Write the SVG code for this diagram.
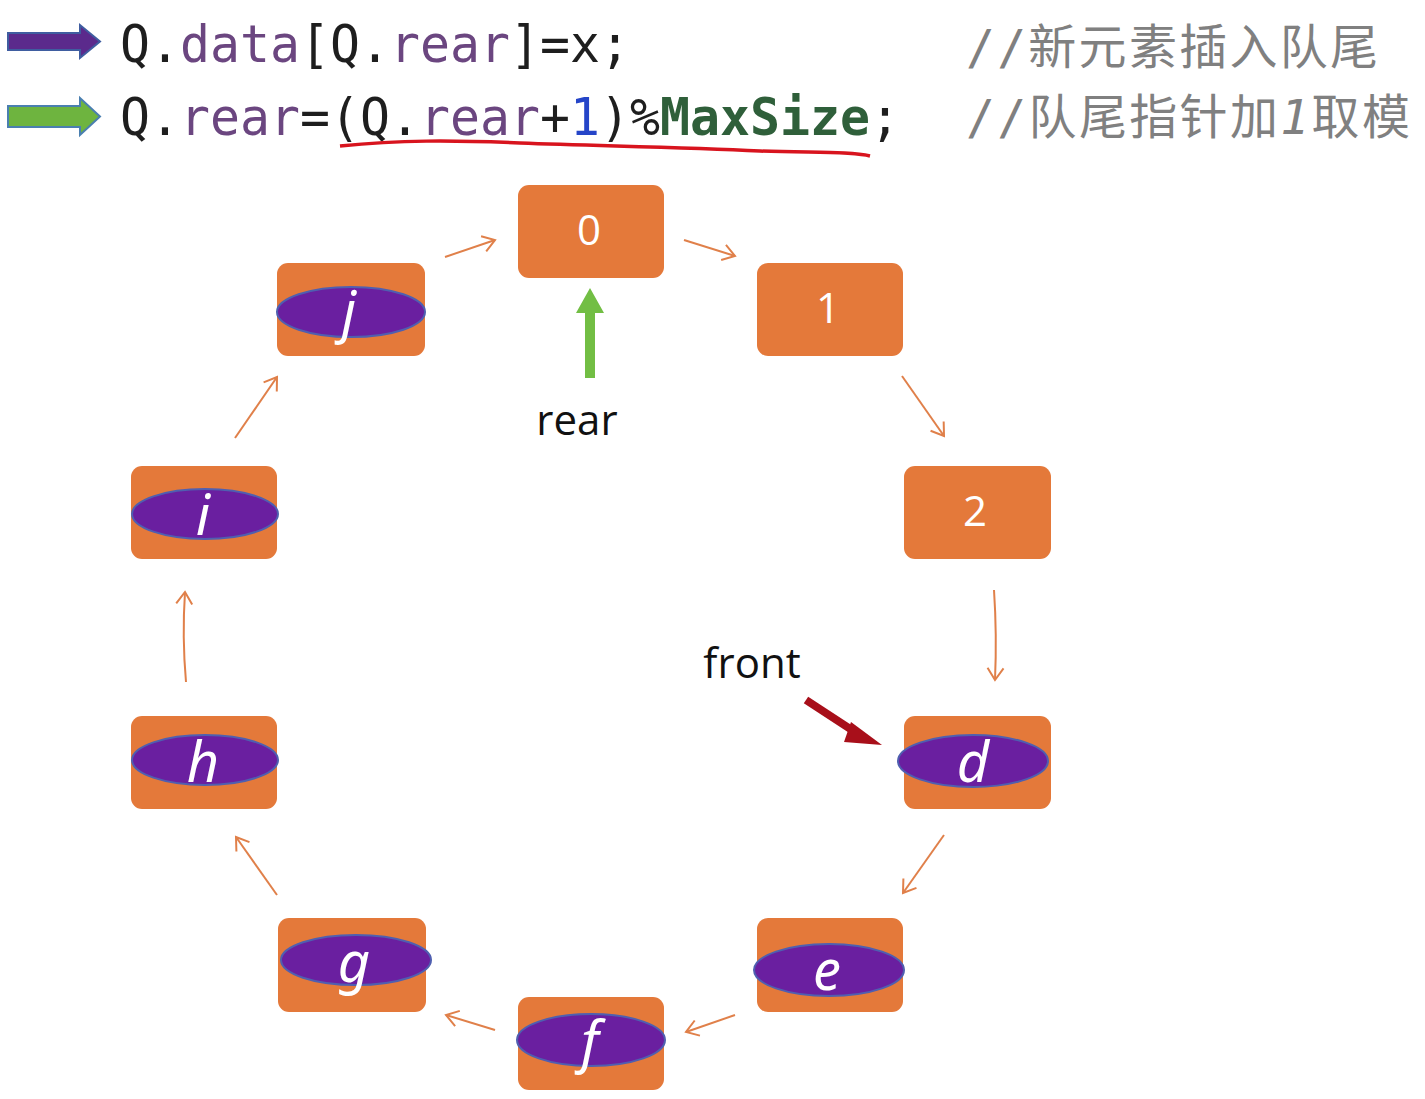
<svg xmlns="http://www.w3.org/2000/svg" width="1425" height="1099" viewBox="0 0 1425 1099">
<defs>
<style>
.box{fill:#E4793A;}
.ell{fill:#6A1FA0;stroke:#4F5FB0;stroke-width:2;}
.num{font-family:"Open Sans","Liberation Sans",sans-serif;font-size:42px;fill:#fff;text-anchor:middle;}
.let{font-family:"Noto Sans","Open Sans",sans-serif;font-style:italic;font-size:56px;fill:#fff;text-anchor:middle;}
.code{font-family:"DejaVu Sans Mono","Liberation Mono",monospace;font-size:52px;fill:#1e1e1e;}
.kw{fill:#6B4680;}
.cmt{font-family:"DejaVu Sans Mono","Noto Sans CJK SC",monospace;font-size:48px;fill:#808080;}
.lbl{font-family:"Open Sans","Liberation Sans",sans-serif;font-size:42px;fill:#111;}
.con{fill:none;stroke:#E0804A;stroke-width:2;marker-end:url(#ah);}
</style>
<marker id="ah" markerUnits="userSpaceOnUse" markerWidth="20" markerHeight="20" refX="16" refY="10" orient="auto">
<path d="M4,2 L16,10 L4,18" fill="none" stroke="#E0804A" stroke-width="2"/>
</marker>
</defs>
<rect width="1425" height="1099" fill="#fff"/>
<g id="header">
<path d="M8,33 H80 V25 L100,41.5 L80,58 V50 H8 Z" fill="#5B2A8C" stroke="#3F5DA0" stroke-width="2"/>
<path d="M8,106 H80 V98 L100,116.5 L80,135 V127 H8 Z" fill="#6EB43F" stroke="#4A7FB0" stroke-width="2"/>
<text class="code" x="120" y="62" textLength="510" lengthAdjust="spacingAndGlyphs">Q.<tspan class="kw">data</tspan>[Q.<tspan class="kw">rear</tspan>]=x;</text>
<text class="code" x="120" y="135" textLength="780" lengthAdjust="spacingAndGlyphs">Q.<tspan class="kw">rear</tspan>=(Q.<tspan class="kw">rear</tspan>+<tspan fill="#2545C8">1</tspan>)%<tspan fill="#2F5F3A" font-weight="bold">MaxSize</tspan>;</text>
<path d="M340,146 C400,140 450,140 520,143 C600,146 680,147 760,151 C810,153 850,151 870,156" fill="none" stroke="#D8141E" stroke-width="3.5"/>
<text class="cmt" x="966" y="64" textLength="412" lengthAdjust="spacing">//新元素插入队尾</text>
<text class="cmt" x="966" y="134" textLength="444" lengthAdjust="spacing">//队尾指针加<tspan font-style="italic">1</tspan>取模</text>
</g>
<g id="node-0"><rect class="box" x="518" y="185" width="146" height="93" rx="11"/><text class="num" x="589" y="245">0</text></g>
<g id="node-1"><rect class="box" x="757" y="263" width="146" height="93" rx="11"/><text class="num" x="828" y="323">1</text></g>
<g id="node-2"><rect class="box" x="904" y="466" width="147" height="93" rx="11"/><text class="num" x="975" y="526">2</text></g>
<g id="node-d"><rect class="box" x="904" y="716" width="147" height="93" rx="11"/><ellipse class="ell" cx="973" cy="761" rx="75" ry="26"/><text class="let" x="973" y="782">d</text></g>
<g id="node-e"><rect class="box" x="757" y="918" width="146" height="94" rx="11"/><ellipse class="ell" cx="829" cy="970" rx="75" ry="26"/><text class="let" x="827" y="990">e</text></g>
<g id="node-f"><rect class="box" x="518" y="997" width="146" height="93" rx="11"/><ellipse class="ell" cx="591" cy="1040" rx="74" ry="26"/><text class="let" x="590" y="1061">f</text></g>
<g id="node-g"><rect class="box" x="278" y="918" width="148" height="94" rx="11"/><ellipse class="ell" cx="356" cy="960" rx="75" ry="25"/><text class="let" x="354" y="982">g</text></g>
<g id="node-h"><rect class="box" x="131" y="716" width="146" height="93" rx="11"/><ellipse class="ell" cx="205" cy="760" rx="73" ry="25"/><text class="let" x="203" y="782">h</text></g>
<g id="node-i"><rect class="box" x="131" y="466" width="146" height="93" rx="11"/><ellipse class="ell" cx="205" cy="514" rx="73" ry="25"/><text class="let" x="203" y="535">i</text></g>
<g id="node-j"><rect class="box" x="277" y="263" width="148" height="93" rx="11"/><ellipse class="ell" cx="351" cy="312" rx="74" ry="25"/><text class="let" x="349" y="331">j</text></g>
<g id="connectors">
<path class="con" d="M445,257 L495,240"/>
<path class="con" d="M684,240 L735,256"/>
<path class="con" d="M902,376 L944,436"/>
<path class="con" d="M994,590 Q997,635 995,680"/>
<path class="con" d="M944,835 L903,893"/>
<path class="con" d="M735,1015 L686,1032"/>
<path class="con" d="M495,1030 L446,1015"/>
<path class="con" d="M277,895 L236,837"/>
<path class="con" d="M186,682 Q182,637 185,592"/>
<path class="con" d="M235,438 L277,377"/>
</g>
<g id="rear-pointer">
<path d="M585,378 V313 H576 L590,288 L604,313 H595 V378 Z" fill="#72BE44"/>
<text class="lbl" x="577" y="435" text-anchor="middle">rear</text>
</g>
<g id="front-pointer">
<text class="lbl" x="752" y="678" text-anchor="middle">front</text>
<path d="M806,700 L858,734" stroke="#A80F1A" stroke-width="8" fill="none"/>
<path d="M851,722 L882,745 L844,742 Z" fill="#A80F1A"/>
</g>
</svg>
